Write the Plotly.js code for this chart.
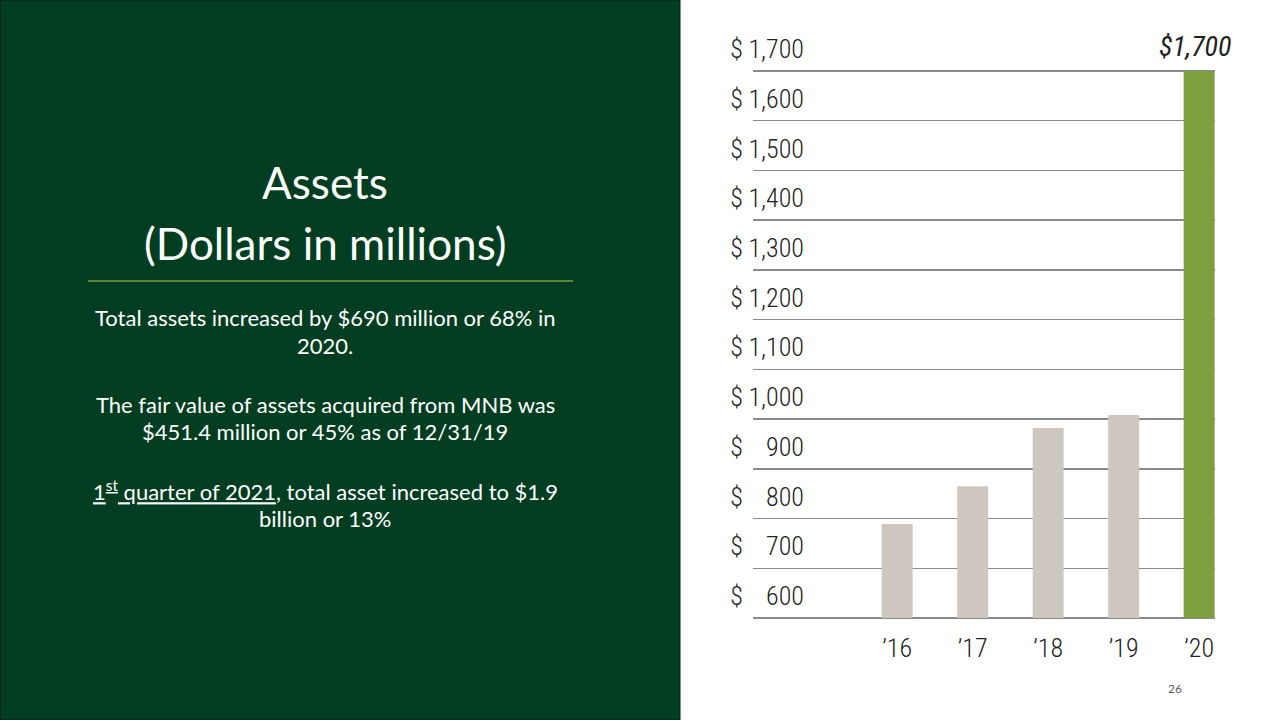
<!DOCTYPE html>
<html>
<head>
<meta charset="utf-8">
<script src="https://cdn.plot.ly/plotly-3.0.1.min.js"></script>
<style>
  html, body { margin: 0; padding: 0; background: #ffffff; }
  #chart { width: 1280px; height: 720px; }
</style>
</head>
<body>
<div id="chart"></div>
<script>
// ---- data ----
const years = ['\u201916', '\u201917', '\u201918', '\u201919', '\u201920'];
const assets = [789, 865, 982, 1008, 1700];           // total assets, $ millions
const yTickValues = [600, 700, 800, 900, 1000, 1100, 1200, 1300, 1400, 1500, 1600, 1700];
const yTickLabels = ['600', '700', '800', '900', '1,000', '1,100', '1,200', '1,300', '1,400', '1,500', '1,600', '1,700'];
const currencySigns = ['$', '$', '$', '$', '$', '$', '$', '$', '$', '$', '$', '$'];

const titleLines = ['Assets', '(Dollars in millions)'];
const bodyLines = [
  'Total assets increased by $690 million or 68% in',
  '2020.',
  'The fair value of assets acquired from MNB was',
  '$451.4 million or 45% as of 12/31/19',
  '<u>1<sup>st</sup> quarter of 2021</u>, total asset increased to $1.9',
  'billion or 13%'
];
const pageNumber = '26';

// ---- layout helpers (pixel -> paper) ----
const yMin = 590, yMax = 1710;                 // axis range (a little beyond the first/last gridline)
const L = 753, R = 1215, T = 66, B = 623;
const W = R - L, H = B - T;
const px = x => (x - L) / W;
const py = y => (B - y) / H;

const narrow = 'Liberation Sans Narrow, Arial Narrow, Roboto Condensed, Roboto, sans-serif';
const textFont = 'Lato, Open Sans, sans-serif';
const tickFont = { family: narrow, size: 26, color: '#222222', weight: 300 };

const prior = {
  type: 'bar',
  x: years.slice(0, 4),
  y: assets.slice(0, 4).map(v => v - yTickValues[0]),
  base: yTickValues[0],
  marker: { color: '#CEC7BF' },
  width: 0.41,
  yaxis: 'y',
  hoverinfo: 'skip'
};
const current = {
  type: 'bar',
  x: years.slice(4),
  y: assets.slice(4).map(v => v - yTickValues[0]),
  base: yTickValues[0],
  marker: { color: '#7BA03D' },
  width: 0.41,
  yaxis: 'y2',
  hoverinfo: 'skip'
};

const yBase = {
  range: [yMin, yMax],
  tickmode: 'array',
  tickvals: yTickValues,
  fixedrange: true,
  zeroline: false,
  showline: false,
  ticks: ''
};

const annotations = [];
// value label above the highlighted bar
annotations.push({
  xref: 'x', yref: 'y', x: years[4], y: assets[4],
  xanchor: 'center', yanchor: 'bottom', yshift: 6, xshift: -4, showarrow: false,
  text: '$' + assets[4].toLocaleString('en-US'),
  font: { family: narrow, size: 28, color: '#222222', style: 'italic', weight: 400 }
});
titleLines.forEach((t, i) => {
  annotations.push({
    xref: 'paper', yref: 'paper', x: px(325), y: py([182, 243][i]),
    xanchor: 'center', yanchor: 'middle', showarrow: false,
    text: t, font: { family: textFont, size: 44, color: '#ffffff' }
  });
});
const bodyY = [317, 345, 404, 431, 490, 518];
bodyLines.forEach((t, i) => {
  annotations.push({
    xref: 'paper', yref: 'paper', x: px(325), y: py(bodyY[i]),
    xanchor: 'center', yanchor: 'middle', showarrow: false,
    text: t, font: { family: textFont, size: 22, color: '#ffffff' }
  });
});
annotations.push({
  xref: 'paper', yref: 'paper', x: px(1175), y: py(688),
  xanchor: 'center', yanchor: 'middle', showarrow: false,
  text: pageNumber, font: { family: textFont, size: 12, color: '#595959' }
});

const layout = {
  width: 1280, height: 720,
  margin: { l: L, r: 1280 - R, t: T, b: 720 - B, pad: 0 },
  paper_bgcolor: '#ffffff',
  plot_bgcolor: 'rgba(0,0,0,0)',
  showlegend: false,
  barmode: 'overlay',
  xaxis: {
    type: 'category',
    categoryorder: 'array',
    categoryarray: years,
    range: [-1.91, 4.21],
    showgrid: false, zeroline: false, showline: false, ticks: '',
    tickfont: tickFont,
    ticklabelstandoff: 7,
    fixedrange: true
  },
  yaxis: Object.assign({}, yBase, {
    ticktext: yTickLabels,
    showgrid: true,
    gridcolor: '#8a8a8a',
    gridwidth: 1.5,
    ticklabelposition: 'outside',
    ticklabelstandoff: -52,
    ticklabelshift: -22,
    tickfont: tickFont
  }),
  yaxis2: Object.assign({}, yBase, {
    overlaying: 'y',
    side: 'left',
    anchor: 'x',
    ticktext: currencySigns,
    showgrid: false,
    ticklabelstandoff: 9,
    ticklabelshift: -22,
    tickfont: tickFont
  }),
  shapes: [
    {
      type: 'rect', xref: 'paper', yref: 'paper', layer: 'below',
      x0: px(0), x1: px(680), y0: py(720), y1: py(0),
      fillcolor: '#013D21', line: { color: '#0b1f14', width: 1 }
    },
    {
      type: 'line', xref: 'paper', yref: 'paper',
      x0: px(88), x1: px(573), y0: py(281), y1: py(281),
      line: { color: '#7BA03D', width: 1.5 }
    }
  ],
  annotations: annotations
};

Plotly.newPlot('chart', [prior, current], layout, { displayModeBar: false, staticPlot: true });
</script>
</body>
</html>
